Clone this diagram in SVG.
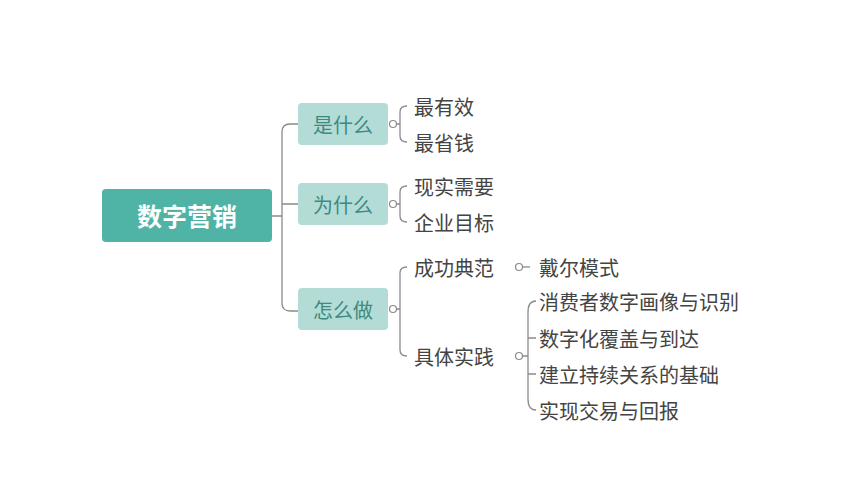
<svg xmlns="http://www.w3.org/2000/svg" width="858" height="484" viewBox="0 0 858 484">
<style>
text{font-family:"Noto Sans CJK SC","Noto Sans",sans-serif;dominant-baseline:central}
.c{fill:none;stroke:#8a8a8a;stroke-width:1.3}
.d{fill:#fff;stroke:#8a8a8a;stroke-width:1.2}
.sub{fill:#b3dcd6}
.st{font-size:20px;fill:#3d8a80;text-anchor:middle}
.lf{font-size:20px;fill:#444}
</style>
<rect width="858" height="484" fill="#fff"/>
<g id="connectors">
<path class="c" d="M272 216H282M298 124H290Q282 124 282 132V303Q282 311 290 311H298M282 204H298"/>
<path class="c" d="M407 106Q400 106 400 112V136Q400 142 407 142M393 124H400"/>
<path class="c" d="M407 186Q400 186 400 192V216Q400 222 407 222M393 204H400"/>
<path class="c" d="M407 267Q400 267 400 273V350Q400 356 407 356M393 309H400"/>
<path class="c" d="M519 267H530"/>
<path class="c" d="M536 301Q528 301 528 312V399Q528 410 536 410M519 356H528M528 338Q528 338 536 338M528 374H536"/>
<circle class="d" cx="393" cy="124" r="3.5"/>
<circle class="d" cx="393" cy="204" r="3.5"/>
<circle class="d" cx="393" cy="309" r="3.5"/>
<circle class="d" cx="519" cy="267" r="3.5"/>
<circle class="d" cx="519" cy="356" r="3.5"/>
</g>
<g id="root"><rect x="102" y="189" width="170" height="53" rx="4" fill="#4fb3a5"/><text x="187" y="215" font-size="25" font-weight="bold" fill="#fff" text-anchor="middle">数字营销</text></g>
<g id="n1"><rect class="sub" x="298" y="103" width="90" height="42" rx="4"/><text class="st" x="343" y="124">是什么</text></g>
<g id="n2"><rect class="sub" x="298" y="183" width="90" height="42" rx="4"/><text class="st" x="343" y="204">为什么</text></g>
<g id="n3"><rect class="sub" x="298" y="288" width="90" height="42" rx="4"/><text class="st" x="343" y="309">怎么做</text></g>
<g id="l1"><text class="lf" x="414" y="106">最有效</text></g>
<g id="l2"><text class="lf" x="414" y="142">最省钱</text></g>
<g id="l3"><text class="lf" x="414" y="186">现实需要</text></g>
<g id="l4"><text class="lf" x="414" y="222">企业目标</text></g>
<g id="l5"><text class="lf" x="414" y="267">成功典范</text></g>
<g id="l6"><text class="lf" x="414" y="356">具体实践</text></g>
<g id="l7"><text class="lf" x="539" y="267">戴尔模式</text></g>
<g id="l8"><text class="lf" x="539" y="301">消费者数字画像与识别</text></g>
<g id="l9"><text class="lf" x="539" y="338">数字化覆盖与到达</text></g>
<g id="l10"><text class="lf" x="539" y="374">建立持续关系的基础</text></g>
<g id="l11"><text class="lf" x="539" y="410">实现交易与回报</text></g>
</svg>
